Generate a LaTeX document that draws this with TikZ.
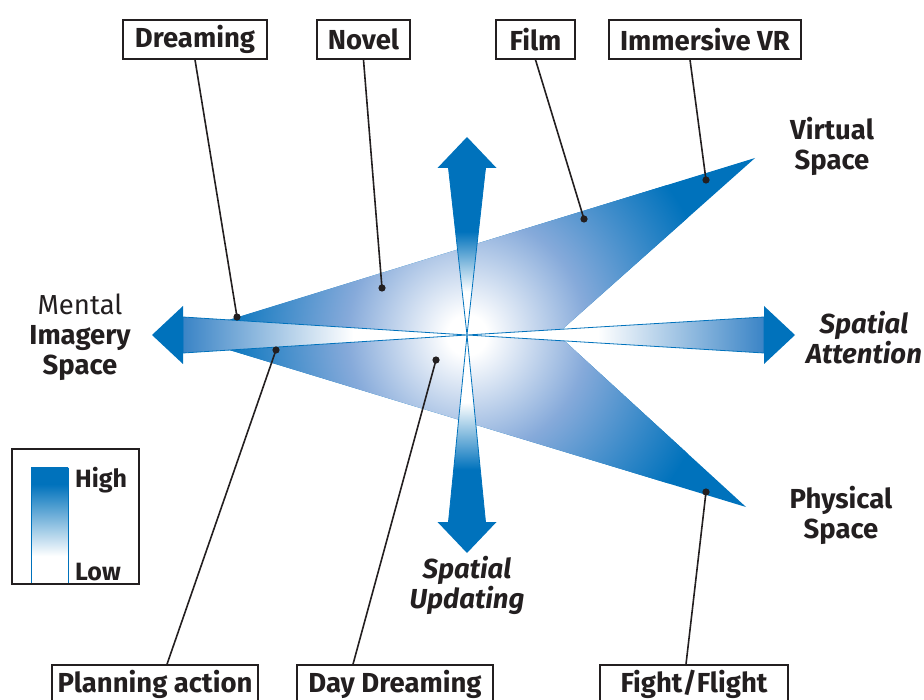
\documentclass[tikz,border=0pt]{standalone}
\usepackage{fontspec}
\setmainfont{Fira Sans}
\usetikzlibrary{calc,positioning}
\definecolor{deepblue}{HTML}{0072BC}
\definecolor{midblue}{HTML}{86AADA}
\definecolor{shaftblue}{HTML}{3A84C6}
\definecolor{ink}{HTML}{231F20}
\pgfdeclareradialshading{glow}{\pgfpoint{0bp}{0bp}}{color(0bp)=(white); color(2bp)=(white); color(12bp)=(midblue); color(25bp)=(deepblue); color(50bp)=(deepblue)}
\pgfdeclareverticalshading{upshaft}{100bp}{color(0bp)=(white); color(38bp)=(white); color(56bp)=(deepblue); color(100bp)=(deepblue)}
\pgfdeclareverticalshading{downshaft}{100bp}{color(0bp)=(deepblue); color(39bp)=(deepblue); color(57bp)=(white); color(100bp)=(white)}
\pgfdeclarehorizontalshading{leftshaft}{100bp}{color(0bp)=(shaftblue); color(25bp)=(shaftblue); color(55bp)=(white); color(100bp)=(white)}
\pgfdeclarehorizontalshading{rightshaft}{100bp}{color(0bp)=(white); color(47bp)=(white); color(75bp)=(shaftblue); color(100bp)=(shaftblue)}
\pgfdeclareverticalshading{legendbar}{100bp}{color(0bp)=(white); color(37bp)=(white); color(68bp)=(deepblue); color(100bp)=(deepblue)}
\begin{document}
\begin{tikzpicture}[x=1pt,y=-1pt,
  lbl/.style={text=ink,font=\fontsize{27.5}{30}\selectfont\bfseries,align=center},
  tag/.style={lbl,draw=ink,line width=1.5pt,fill=white,inner sep=0pt,minimum height=39},
  leader/.style={draw=ink,line width=1.6pt},
  shaft/.style={draw=deepblue,line width=0.8pt}]
  \useasboundingbox (0,0) rectangle (924,700);
  \coordinate (hub) at (467,335);
  \begin{scope}
    \clip (180,335) -- (755,158) -- (557,334) -- (746,507) -- cycle;
    \fill[deepblue] (0,0) rectangle (924,700);
    \shade[shading=glow] (hub) circle (250);
  \end{scope}
  \shadedraw[shading=leftshaft,shaft] (183,317) -- (183,353) -- (hub) -- cycle;
  \shadedraw[shading=rightshaft,shaft] (764,317) -- (764,353) -- (hub) -- cycle;
  \shadedraw[shading=upshaft,shaft] (448.5,168) -- (485.5,168) -- (hub) -- cycle;
  \shadedraw[shading=downshaft,shaft] (448.5,522) -- (485.5,522) -- (hub) -- cycle;
  \fill[deepblue] (183,306) -- (152,335) -- (183,364) -- cycle;
  \fill[deepblue] (764,306) -- (795,335) -- (764,364) -- cycle;
  \fill[deepblue] (437.5,168) -- (467,137) -- (496.5,168) -- cycle;
  \fill[deepblue] (437.5,522) -- (467,553) -- (496.5,522) -- cycle;

  \node[lbl] (virtual) at (832,146) {Virtual\\Space};
  \node[lbl,font=\fontsize{27.5}{30}\selectfont\bfseries\itshape] (attention) at (864,338) {Spatial\\Attention};
  \node[lbl] (mental) at (80,337) {{\mdseries Mental}\\Imagery\\Space};
  \node[lbl] (physical) at (841,515) {Physical\\Space};
  \node[lbl,font=\fontsize{27.5}{30}\selectfont\bfseries\itshape] (updating) at (467,585) {Spatial\\Updating};

  \node[tag,minimum width=144] (dreaming) at (195,39.5) {Dreaming};
  \node[tag,minimum width=93] (novel) at (363.5,39.5) {Novel};
  \node[tag,minimum width=79] (film) at (535.5,39.5) {Film};
  \node[tag,minimum width=192] (vr) at (705,39.5) {Immersive VR};
  \node[tag,minimum width=206] (planning) at (155,684.5) {Planning action};
  \node[tag,minimum width=196] (daydream) at (395,684.5) {Day Dreaming};
  \node[tag,minimum width=188] (fight) at (694,684.5) {Fight/Flight};

  \coordinate (pDreaming) at (237,317);
  \coordinate (pNovel) at (382,288);
  \coordinate (pFilm) at (584,219);
  \coordinate (pVR) at (706,180);
  \coordinate (pPlanning) at (276,350);
  \coordinate (pDay) at (436,360);
  \coordinate (pFight) at (706,492);
  \draw[leader] (dreaming.south) -- (pDreaming);
  \draw[leader] (novel.south) -- (pNovel);
  \draw[leader] (film.south) -- (pFilm);
  \draw[leader] ($(vr.south)+(-15,0)$) -- (pVR);
  \draw[leader] ($(planning.north)+(12,0)$) -- (pPlanning);
  \draw[leader] ($(daydream.north)+(-42,0)$) -- (pDay);
  \draw[leader] ($(fight.north)+(-8,0)$) -- (pFight);
  \foreach \p in {pDreaming,pNovel,pFilm,pVR,pPlanning,pDay,pFight}
    \fill[ink] (\p) circle (3.6);

  \shadedraw[shading=legendbar,shaft] (31,468) rectangle (68,584);
  \node[draw=ink,line width=1.2pt,minimum width=127,minimum height=135,inner sep=0pt] (legend) at (75.5,516.5) {};
  \node[lbl,font=\fontsize{25}{30}\selectfont\bfseries,anchor=west,inner sep=0pt] (high) at (75,480) {High};
  \node[lbl,font=\fontsize{25}{30}\selectfont\bfseries,anchor=west,inner sep=0pt] (low) at (75,572) {Low};
\end{tikzpicture}
\end{document}
